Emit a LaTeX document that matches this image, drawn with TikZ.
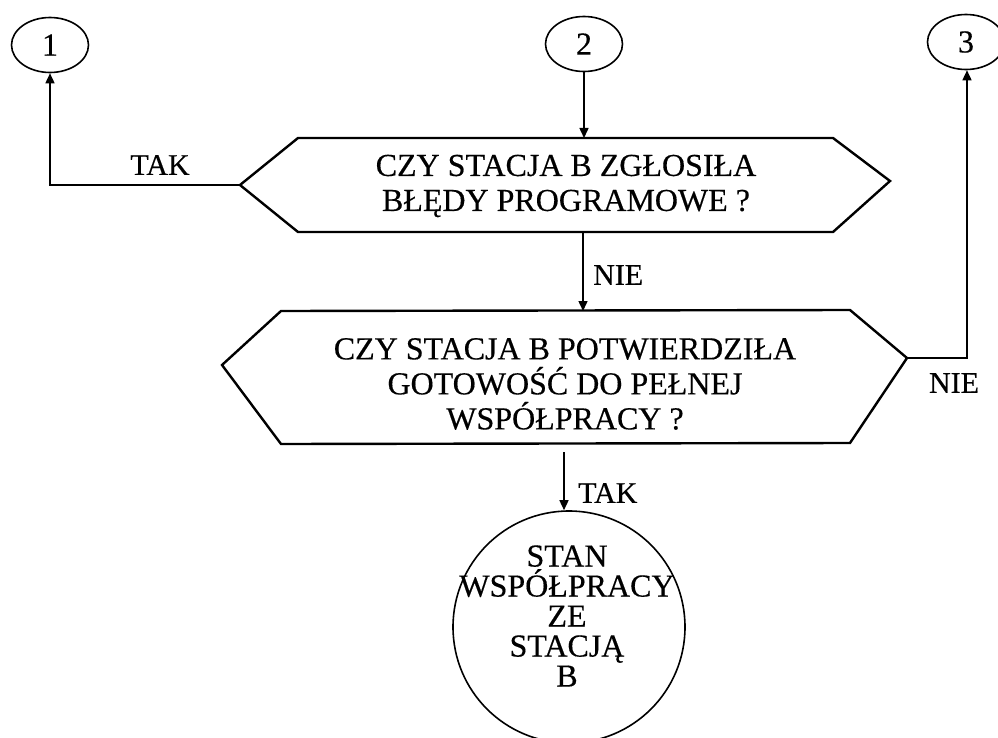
\documentclass[tikz,border=0pt]{standalone}
\usepackage{fontspec}
\setmainfont{Liberation Serif}[FakeBold=0.4]
\usetikzlibrary{arrows.meta,shapes.geometric}
\begin{document}
\begin{tikzpicture}[x=1pt,y=-1pt,
  connector/.style={line width=1.5pt,-{Triangle[length=10pt,width=9pt]}},
  decision/.style={line width=2.4pt,line join=miter},
  oval/.style={draw,ellipse,line width=1.6pt,minimum width=77pt,minimum height=55pt,inner sep=0pt,
    font=\fontsize{32}{32}\selectfont},
  bigtext/.style={align=center,inner sep=0pt,font=\fontsize{32}{35}\selectfont},
  endtext/.style={align=center,inner sep=0pt,font=\fontsize{32}{30}\selectfont},
  label/.style={inner sep=0pt,font=\fontsize{30}{30}\selectfont}]
\useasboundingbox (0,0) rectangle (998,738);

% numbered connector ovals
\node[oval] (o1) at (50,45) {1};
\node[oval] (o2) at (584,44) {2};
\node[oval] (o3) at (966,42) {3};

% first decision
\coordinate (h1w) at (240,185);
\coordinate (h1e) at (890,181);
\coordinate (h1tl) at (298,138);
\coordinate (h1tr) at (833,138);
\coordinate (h1bl) at (298,232);
\coordinate (h1br) at (833,232);
\draw[decision] (h1w) -- (h1tl) -- (h1tr) -- (h1e) -- (h1br) -- (h1bl) -- cycle;
\node[bigtext] (q1) at (566,186) {CZY STACJA B ZGŁOSIŁA\\BŁĘDY PROGRAMOWE ?};

% second decision
\coordinate (h2w) at (222,365);
\coordinate (h2e) at (907,358);
\coordinate (h2tl) at (281,311);
\coordinate (h2tr) at (850,310);
\coordinate (h2bl) at (281,444);
\coordinate (h2br) at (850,443);
\draw[decision] (h2w) -- (h2tl) -- (h2tr) -- (h2e) -- (h2br) -- (h2bl) -- cycle;
\node[bigtext] (q2) at (565,384) {CZY STACJA B POTWIERDZIŁA\\GOTOWOŚĆ DO PEŁNEJ\\WSPÓŁPRACY ?};

% final state
\node[draw,circle,line width=1.6pt,minimum size=232pt,inner sep=0pt] (st) at (569,627) {};
\node[endtext] (stt) at (567,616) {STAN\\WSPÓŁPRACY\\ZE\\STACJĄ\\B};

% flow
\coordinate (a2) at (584,138);
\draw[connector] (o2.south) -- (a2);

\coordinate (n1s) at (583,232);
\coordinate (n1e) at (583,311);
\draw[connector] (n1s) -- (n1e);
\node[label,anchor=west] (lnie1) at (593,275) {NIE};

\draw[connector] (h1w) -- (50,185) -- (o1.south);
\node[label] (ltak1) at (160,165) {TAK};

\coordinate (r3) at (967,358);
\draw[connector] (h2e) -- (r3) -- (o3.south -| r3);
\node[label] (lnie2) at (954,383) {NIE};

\coordinate (t2s) at (564,452);
\draw[connector] (t2s) -- (st.north -| t2s);
\node[label,anchor=west] (ltak2) at (578,493) {TAK};
\end{tikzpicture}
\end{document}
